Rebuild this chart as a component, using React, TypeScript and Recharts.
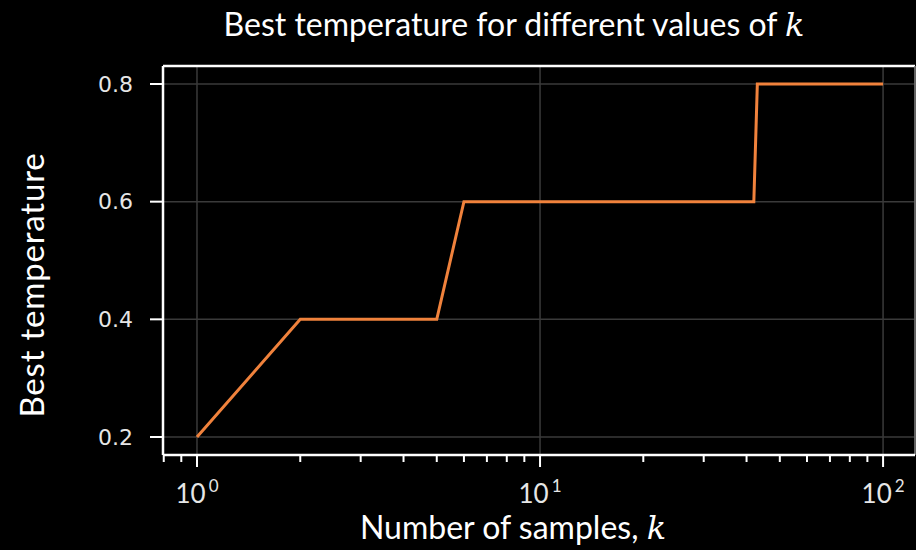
import { LineChart, Line, XAxis, YAxis, CartesianGrid, ReferenceLine } from 'recharts';

const sampleCounts = [1, 2, 5, 6, 42, 43, 100];
const bestTemps = [0.2, 0.4, 0.4, 0.6, 0.6, 0.8, 0.8];
const majorTicks = [1, 10, 100];
const minorTicks = [0.8, 0.9, 2, 3, 4, 5, 6, 7, 8, 9, 20, 30, 40, 50, 60, 70, 80, 90];
const yTicks = [0.2, 0.4, 0.6, 0.8];

const X_MIN = 0.796;
const X_MAX = 123.9;
const Y_MIN = 0.1694;
const Y_MAX = 0.8306;

const data = sampleCounts.map((k, i) => ({ k, temp: bestTemps[i] }));

function XTick({ x, y, payload }: any) {
  const v = payload.value;
  return (
    <g>
      <line x1={x} x2={x} y1={y} y2={y + 12} stroke="#fff" strokeWidth={2} />
      <text x={x} y={y + 48} textAnchor="middle" fill="#e6e6e6" fontSize={26} fontFamily="Lato">
        10
        <tspan dx={3} dy={-11} fontSize={17}>
          {Math.round(Math.log10(v))}
        </tspan>
      </text>
    </g>
  );
}

// short tick under the axis, drawn from the reference line's bottom end
function MinorTick(props: any) {
  const { x1, y1, y2 } = props;
  const bottom = Math.max(y1, y2);
  return <line x1={x1} x2={x1} y1={bottom} y2={bottom + 7} stroke="#fff" strokeWidth={2} />;
}

export default function App() {
  return (
    <div style={{ position: 'absolute', left: 0, top: 0, width: 916, height: 550, background: '#000', overflow: 'hidden' }}>
      <LineChart width={916} height={550} data={data} margin={{ top: 66, right: 1, left: 0, bottom: 0 }}>
        <CartesianGrid stroke="#3a3a3a" strokeWidth={1.5} />
        <XAxis
          dataKey="k"
          type="number"
          scale="log"
          domain={[X_MIN, X_MAX]}
          allowDataOverflow
          ticks={majorTicks}
          interval={0}
          height={95}
          tickSize={0}
          tickMargin={0}
          tick={<XTick />}
          axisLine={{ stroke: '#fff', strokeWidth: 2.5 }}
        />
        <YAxis
          type="number"
          domain={[Y_MIN, Y_MAX]}
          allowDataOverflow
          ticks={yTicks}
          width={163}
          tickSize={13}
          tickMargin={17}
          tickFormatter={(v: number) => v.toFixed(1)}
          tick={{ fill: '#e6e6e6', fontSize: 22, fontFamily: 'DejaVu Sans' }}
          tickLine={{ stroke: '#fff', strokeWidth: 2 }}
          axisLine={{ stroke: '#fff', strokeWidth: 2.5 }}
        />
        {minorTicks.map((t) => (
          <ReferenceLine key={t} x={t} stroke="none" shape={<MinorTick />} ifOverflow="visible" />
        ))}
        <ReferenceLine y={Y_MAX} stroke="#fff" strokeWidth={2.5} />
        <ReferenceLine x={X_MAX} stroke="#777" strokeWidth={1.5} />
        <Line
          type="linear"
          dataKey="temp"
          stroke="#f0823c"
          strokeWidth={3}
          dot={false}
          isAnimationActive={false}
        />
      </LineChart>
      <div
        style={{
          position: 'absolute', left: 0, width: 1028, top: 4, textAlign: 'center',
          color: '#fff', fontFamily: 'Lato', fontSize: 32, whiteSpace: 'nowrap',
        }}
      >
        Best temperature for different values of <i style={{ fontFamily: 'DejaVu Serif' }}>k</i>
      </div>
      <div
        style={{
          position: 'absolute', left: 0, width: 1026, top: 507, textAlign: 'center',
          color: '#fff', fontFamily: 'Lato', fontSize: 32, whiteSpace: 'nowrap',
        }}
      >
        Number of samples, <i style={{ fontFamily: 'DejaVu Serif' }}>k</i>
      </div>
      <div
        style={{
          position: 'absolute', left: 31, top: 285, transform: 'translate(-50%, -50%) rotate(-90deg)',
          color: '#fff', fontFamily: 'Lato', fontSize: 33, letterSpacing: 0.8, whiteSpace: 'nowrap',
        }}
      >
        Best temperature
      </div>
    </div>
  );
}
